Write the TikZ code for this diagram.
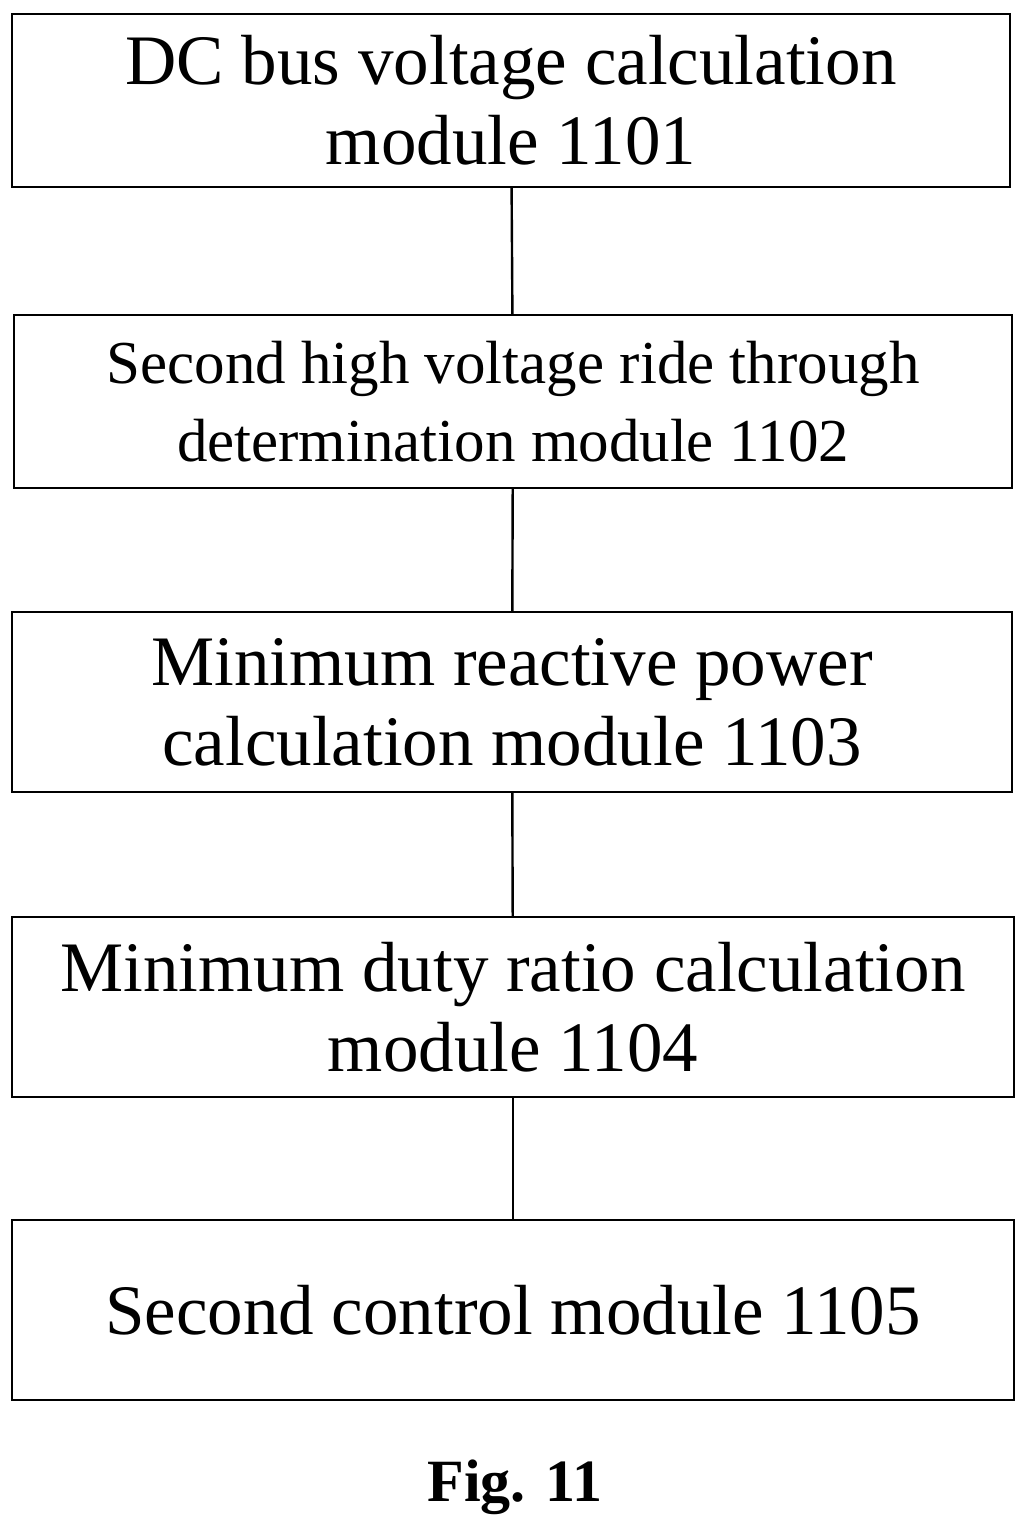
\documentclass[tikz,border=0pt]{standalone}
\usepackage{fontspec}
\setmainfont{Liberation Serif}
\begin{document}
\begin{tikzpicture}[x=0.5pt,y=-0.5pt,
  box/.style={draw,line width=1.2pt,inner sep=0pt,align=center},
  big/.style={font=\fontsize{35.5}{40}\selectfont},
  small/.style={font=\fontsize{30.5}{39}\selectfont},
  con/.style={line width=1.2pt}]
\useasboundingbox (0,0) rectangle (1029,1524);
\node[box,big,minimum width=499pt,minimum height=86.5pt] (b1) at (511,100.5) {DC bus voltage calculation\\module 1101};
\node[box,small,minimum width=499pt,minimum height=86.5pt] (b2) at (513,401.5) {Second high voltage ride through\\determination module 1102};
\node[box,big,minimum width=500pt,minimum height=90pt] (b3) at (512,702) {Minimum reactive power\\calculation module 1103};
\node[box,big,minimum width=501pt,minimum height=90pt] (b4) at (513,1007) {Minimum duty ratio calculation\\module 1104};
\node[box,big,minimum width=501pt,minimum height=90pt] (b5) at (513,1310) {Second control module 1105};
\draw[con] (b1) -- (b2);
\draw[con] (b2) -- (b3);
\draw[con] (b3) -- (b4);
\draw[con] (b4) -- (b5);
\node[font=\bfseries\fontsize{30}{36}\selectfont] (fig) at (515,1487) {Fig. 11};
\end{tikzpicture}
\end{document}
